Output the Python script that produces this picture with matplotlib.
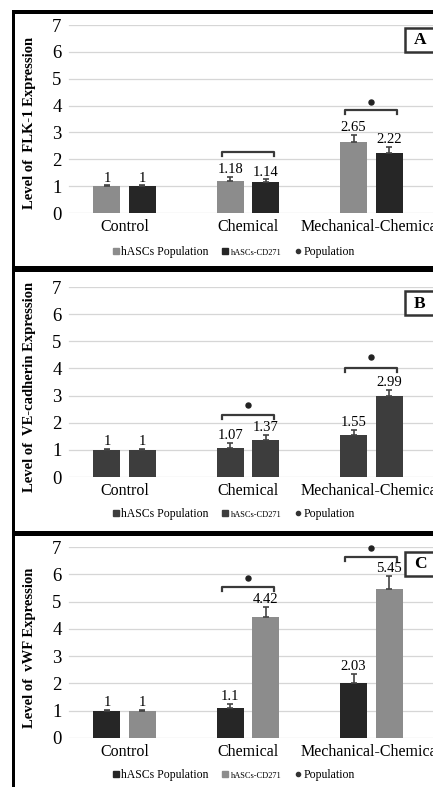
import matplotlib
matplotlib.use("Agg")
import matplotlib.pyplot as plt
from matplotlib.lines import Line2D
from matplotlib.patches import Rectangle
import numpy as np

plt.rcParams['font.family'] = ['Liberation Serif', 'DejaVu Serif']

categories = ["Control", "Chemical", "Mechanical-Chemical"]
yticks = [0, 1, 2, 3, 4, 5, 6, 7]

# panel A - FLK-1
flk_hascs = [1, 1.18, 2.65]
flk_cd271 = [1, 1.14, 2.22]
flk_err_hascs = [0.03, 0.17, 0.25]
flk_err_cd271 = [0.03, 0.11, 0.23]

# panel B - VE-cadherin
ve_hascs = [1, 1.07, 1.55]
ve_cd271 = [1, 1.37, 2.99]
ve_err_hascs = [0.03, 0.20, 0.20]
ve_err_cd271 = [0.03, 0.18, 0.23]

# panel C - vWF
vwf_hascs = [1, 1.1, 2.03]
vwf_cd271 = [1, 4.42, 5.45]
vwf_err_hascs = [0.03, 0.15, 0.32]
vwf_err_cd271 = [0.03, 0.38, 0.50]

# brackets: (category index, bracket height, star height or None)
flk_brackets = [(1, 2.27, None), (2, 3.83, 4.13)]
ve_brackets = [(1, 2.30, 2.64), (2, 4.02, 4.43)]
vwf_brackets = [(1, 5.52, 5.85), (2, 6.65, 6.96)]

W, H = 433, 787
fig = plt.figure(figsize=(W / 100, H / 100), dpi=100)

GRAY = '#8c8c8c'
DARK = '#262626'
MID = '#3d3d3d'


def px_axes(left, top, right, bottom):
    return fig.add_axes([left / W, 1 - bottom / H, (right - left) / W, (bottom - top) / H])


def draw_panel(top, bottom, hascs, cd271, err_h, err_c, brackets, c_h, c_c,
               ylabel, ylabel_y, letter, box_top, leg_y, leg_cols):
    ax = px_axes(63, top, 433, bottom)
    x = np.arange(len(categories))
    off = 0.144
    w = 0.22
    for yv in yticks:
        ax.axhline(yv, xmin=0.015, xmax=1, color='#d6d6d6', lw=0.9, zorder=0)
    ax.bar(x - off, hascs, w, color=c_h, zorder=2)
    ax.bar(x + off, cd271, w, color=c_c, zorder=2)
    ax.errorbar(x - off, hascs, yerr=[np.zeros(3), err_h], fmt='none',
                ecolor='#444444', elinewidth=1.2, capsize=2.2, capthick=1.2, zorder=3)
    ax.errorbar(x + off, cd271, yerr=[np.zeros(3), err_c], fmt='none',
                ecolor='#444444', elinewidth=1.2, capsize=2.2, capthick=1.2, zorder=3)
    for xi, v, e in zip(x - off, hascs, err_h):
        ax.text(xi, v + e + 0.03, f"{v:g}", ha='center', va='bottom', fontsize=10.5, zorder=4)
    for xi, v, e in zip(x + off, cd271, err_c):
        ax.text(xi, v + e + 0.03, f"{v:g}", ha='center', va='bottom', fontsize=10.5, zorder=4)
    for ci, by, sy in brackets:
        ax.plot([ci - 0.21, ci - 0.21, ci + 0.21, ci + 0.21],
                [by - 0.15, by, by, by - 0.15], color='#3a3a3a', lw=1.6,
                solid_joinstyle='round', zorder=4, clip_on=False)
        if sy is not None:
            ax.plot(ci, sy, 'o', color='#222222', ms=3.6, zorder=4, clip_on=False)
    ax.set_xlim(-0.5, 2.5)
    ax.set_ylim(0, 7)
    ax.set_yticks(yticks)
    ax.set_xticks(x)
    ax.set_xticklabels(categories, fontsize=11.5)
    ax.tick_params(axis='y', length=0, pad=1, labelsize=13.5)
    ax.tick_params(axis='x', length=0, pad=4)
    for s in ax.spines.values():
        s.set_visible(False)
    ax.patch.set_alpha(0)
    fig.text(30 / W, 1 - ylabel_y / H, ylabel, rotation=90, ha='center', va='center',
             fontsize=10.5, fontweight='bold')
    # panel letter box
    fig.patches.append(Rectangle((405 / W, 1 - (box_top + 24) / H), 30 / W, 24 / H,
                                 transform=fig.transFigure, facecolor='white',
                                 edgecolor='#333333', lw=1.8, zorder=5))
    fig.text(420 / W, 1 - (box_top + 12.5) / H, letter, ha='center', va='center',
             fontsize=12.5, fontweight='bold', zorder=6)
    handles = [
        Line2D([], [], marker='s', ls='', color=leg_cols[0], ms=4),
        Line2D([], [], marker='s', ls='', color=leg_cols[1], ms=5),
        Line2D([], [], marker='o', ls='', color='#333333', ms=3),
    ]
    leg = ax.legend(handles, ["hASCs Population", "hASCs-CD271", "Population"],
                    loc='center', bbox_to_anchor=(233 / W, 1 - leg_y / H),
                    bbox_transform=fig.transFigure, ncol=3, frameon=False,
                    fontsize=8.5, handletextpad=0.05, columnspacing=1.0,
                    handlelength=0.8, borderpad=0)
    leg.get_texts()[1].set_fontsize(6)
    return ax


draw_panel(25, 213, flk_hascs, flk_cd271, flk_err_hascs, flk_err_cd271, flk_brackets,
           GRAY, DARK, "Level of  FLK-1 Expression", 123, "A", 28, 252, [GRAY, DARK])
draw_panel(287, 477, ve_hascs, ve_cd271, ve_err_hascs, ve_err_cd271, ve_brackets,
           MID, MID, "Level of  VE-cadherin Expression", 387, "B", 291, 514, [MID, MID])
draw_panel(547, 738, vwf_hascs, vwf_cd271, vwf_err_hascs, vwf_err_cd271, vwf_brackets,
           DARK, GRAY, "Level of  vWF Expression", 648, "C", 552, 775, [DARK, GRAY])

# thick black frame lines
for (l, t, r, b) in [(12, 10, 433, 14), (12, 10, 15, 787), (12, 266, 433, 272), (12, 531, 433, 536)]:
    fig.patches.append(Rectangle((l / W, 1 - b / H), (r - l) / W, (b - t) / H,
                                 transform=fig.transFigure, facecolor='black',
                                 edgecolor='none', zorder=10))

fig.savefig("out.png", dpi=100)
